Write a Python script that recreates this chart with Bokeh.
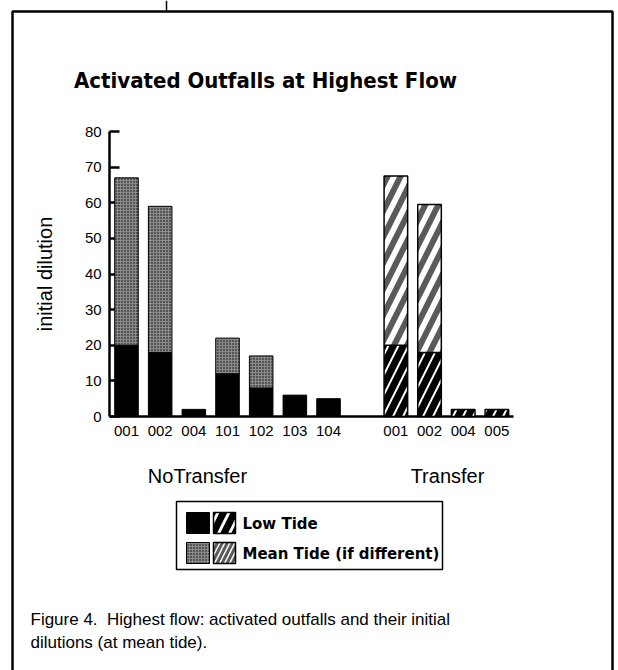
import numpy as np
from bokeh.plotting import figure
from bokeh.models import Range1d, LinearAxis, FixedTicker, ColumnDataSource
from bokeh.core.properties import value
from bokeh.embed import file_html
from bokeh.resources import INLINE

# ---------------- data ----------------
title_text = "Activated Outfalls at Highest Flow"
groups = ["NoTransfer", "Transfer"]
notransfer_outfalls = ["001", "002", "004", "101", "102", "103", "104"]
notransfer_low = [20, 18, 2, 12, 8, 6, 5]
notransfer_mean = [67, 59, 2, 22, 17, 6, 5]
transfer_outfalls = ["001", "002", "004", "005"]
transfer_low = [20, 18, 2, 2]
transfer_mean = [67.5, 59.5, 2, 2]
y_ticks = [0, 10, 20, 30, 40, 50, 60, 70, 80]
y_label = "initial dilution"
legend_labels = ["Low Tide", "Mean Tide (if different)"]
caption_lines = ["Figure 4.\u00a0 Highest flow: activated outfalls and their initial",
                 "dilutions (at mean tide)."]

# ---------------- layout ----------------
W, H = 618, 670
SLOT = 33.67          # px per category slot
X0 = 126              # px of first slot centre
PPU = 3.5625          # px per dilution unit
Y0 = 416              # px (from top) of zero line

nt_x = list(range(len(notransfer_outfalls)))
t_x = [len(notransfer_outfalls) + 1 + i for i in range(len(transfer_outfalls))]
n_slots = t_x[-1] + 1

x_range = Range1d(-X0 / SLOT, (W - X0) / SLOT)
y_range = Range1d(-(H - Y0) / PPU, Y0 / PPU)

p = figure(width=W, height=H, x_range=x_range, y_range=y_range,
           output_backend="svg", toolbar_location=None,
           x_axis_location=None, y_axis_location=None,
           min_border=0, min_border_left=0, min_border_right=0,
           min_border_top=0, min_border_bottom=0,
           outline_line_color=None, background_fill_color="white",
           border_fill_color="white")
p.grid.visible = False
p.extra_x_ranges = {"px": Range1d(0, W)}
p.extra_y_ranges = {"px": Range1d(H, 0)}

FONT = value("Liberation Sans")
AXFONT = "Liberation Sans"
BW = 0.7

# NoTransfer bars
nt_low_src = ColumnDataSource(dict(x=nt_x, top=notransfer_low))
p.vbar(x="x", top="top", bottom=0, width=BW, source=nt_low_src,
       fill_color="black", line_color="black", line_width=1)
nt_m = [(x, lo, mn) for x, lo, mn in zip(nt_x, notransfer_low, notransfer_mean) if mn > lo]
nt_mean_src = ColumnDataSource(dict(x=[a[0] for a in nt_m], bottom=[a[1] for a in nt_m],
                                    top=[a[2] for a in nt_m]))
p.vbar(x="x", top="top", bottom="bottom", width=BW, source=nt_mean_src,
       fill_color="#8a8a8a", hatch_pattern="dot", hatch_color="black",
       hatch_scale=3, hatch_weight=1.2, line_color="black", line_width=1)

# Transfer bars
t_low_src = ColumnDataSource(dict(x=t_x, top=transfer_low))
p.vbar(x="x", top="top", bottom=0, width=BW, source=t_low_src,
       fill_color="white", hatch_pattern="/", hatch_color="black",
       hatch_scale=20, hatch_weight=7, line_color="black", line_width=1.5)
t_m = [(x, lo, mn) for x, lo, mn in zip(t_x, transfer_low, transfer_mean) if mn > lo]
t_mean_src = ColumnDataSource(dict(x=[a[0] for a in t_m], bottom=[a[1] for a in t_m],
                                   top=[a[2] for a in t_m]))
p.vbar(x="x", top="top", bottom="bottom", width=BW, source=t_mean_src,
       fill_color="white", hatch_pattern="/", hatch_color="#5a5a5a",
       hatch_scale=26, hatch_weight=6, line_color="black", line_width=1.5)

# Axes
yaxis = LinearAxis(fixed_location=-0.5, bounds=(y_ticks[0], y_ticks[-1]),
                   ticker=FixedTicker(ticks=y_ticks))
yaxis.axis_line_width = 2.5
yaxis.major_tick_in = 10
yaxis.major_tick_out = 0
yaxis.major_tick_line_width = 2.5
yaxis.minor_tick_in = 0
yaxis.minor_tick_out = 0
yaxis.major_label_standoff = 8
yaxis.major_label_text_font = AXFONT
yaxis.major_label_text_font_size = "15px"
yaxis.major_label_text_color = "black"
yaxis.axis_label = y_label
yaxis.axis_label_text_font = AXFONT
yaxis.axis_label_text_font_size = "20px"
yaxis.axis_label_text_font_style = "normal"
yaxis.axis_label_text_color = "black"
yaxis.axis_label_standoff = 26
yaxis.level = "underlay"
p.add_layout(yaxis, "left")

all_x = nt_x + t_x
all_lab = notransfer_outfalls + transfer_outfalls
xaxis = LinearAxis(fixed_location=0, bounds=(-0.5, n_slots - 0.5),
                   ticker=FixedTicker(ticks=all_x),
                   major_label_overrides={x: l for x, l in zip(all_x, all_lab)})
xaxis.axis_line_width = 2.5
xaxis.major_tick_in = 0
xaxis.major_tick_out = 0
xaxis.minor_tick_in = 0
xaxis.minor_tick_out = 0
xaxis.major_label_standoff = 9
xaxis.major_label_text_font = AXFONT
xaxis.major_label_text_font_size = "15px"
xaxis.major_label_text_color = "black"
xaxis.level = "underlay"
p.add_layout(xaxis, "below")

# Group labels
p.text(x=[197, 447], y=[475, 475], text=groups, x_range_name="px", y_range_name="px",
       text_font=FONT, text_font_size="20px", text_align="center",
       text_baseline="alphabetic", text_color="black")

# Title
p.text(x=[265], y=[80], text=[title_text], x_range_name="px", y_range_name="px",
       text_font=value("DejaVu Sans Condensed, Liberation Sans"), text_font_style="bold",
       text_font_size="22px", text_align="center", text_baseline="alphabetic",
       text_color="black")

# Outer frame
p.quad(left=[12], right=[612], top=[11], bottom=[720], x_range_name="px", y_range_name="px",
       fill_alpha=0, line_color="black", line_width=2.5)
p.segment(x0=[166], y0=[0], x1=[166], y1=[11], x_range_name="px", y_range_name="px",
          line_color="black", line_width=1.5)

# Legend box
p.quad(left=[176], right=[442], top=[501], bottom=[569], x_range_name="px", y_range_name="px",
       fill_color="white", line_color="black", line_width=1.5)
# swatches
p.quad(left=[186], right=[209], top=[512], bottom=[533], x_range_name="px", y_range_name="px",
       fill_color="black", line_color="black", line_width=1)
p.quad(left=[213], right=[235], top=[512], bottom=[533], x_range_name="px", y_range_name="px",
       fill_color="white", hatch_pattern="/", hatch_color="black", hatch_scale=22,
       hatch_weight=7, line_color="black", line_width=1.5)
p.quad(left=[186], right=[209], top=[542], bottom=[563], x_range_name="px", y_range_name="px",
       fill_color="#8a8a8a", hatch_pattern="dot", hatch_color="black", hatch_scale=3,
       hatch_weight=1.2, line_color="black", line_width=1)
p.quad(left=[213], right=[235], top=[542], bottom=[563], x_range_name="px", y_range_name="px",
       fill_color="white", hatch_pattern="/", hatch_color="#5a5a5a", hatch_scale=10,
       hatch_weight=3, line_color="black", line_width=1.5)
p.text(x=[242, 242], y=[523, 553], text=legend_labels, x_range_name="px", y_range_name="px",
       text_font=value("DejaVu Sans"), text_font_style="bold", text_font_size="15px",
       text_align="left", text_baseline="middle", text_color="black")

# Caption
p.text(x=[30, 30], y=[619, 642], text=caption_lines, x_range_name="px", y_range_name="px",
       text_font=FONT, text_font_size="17px", text_align="left",
       text_baseline="alphabetic", text_color="black")

open("out.html", "w").write(file_html(p, INLINE))
